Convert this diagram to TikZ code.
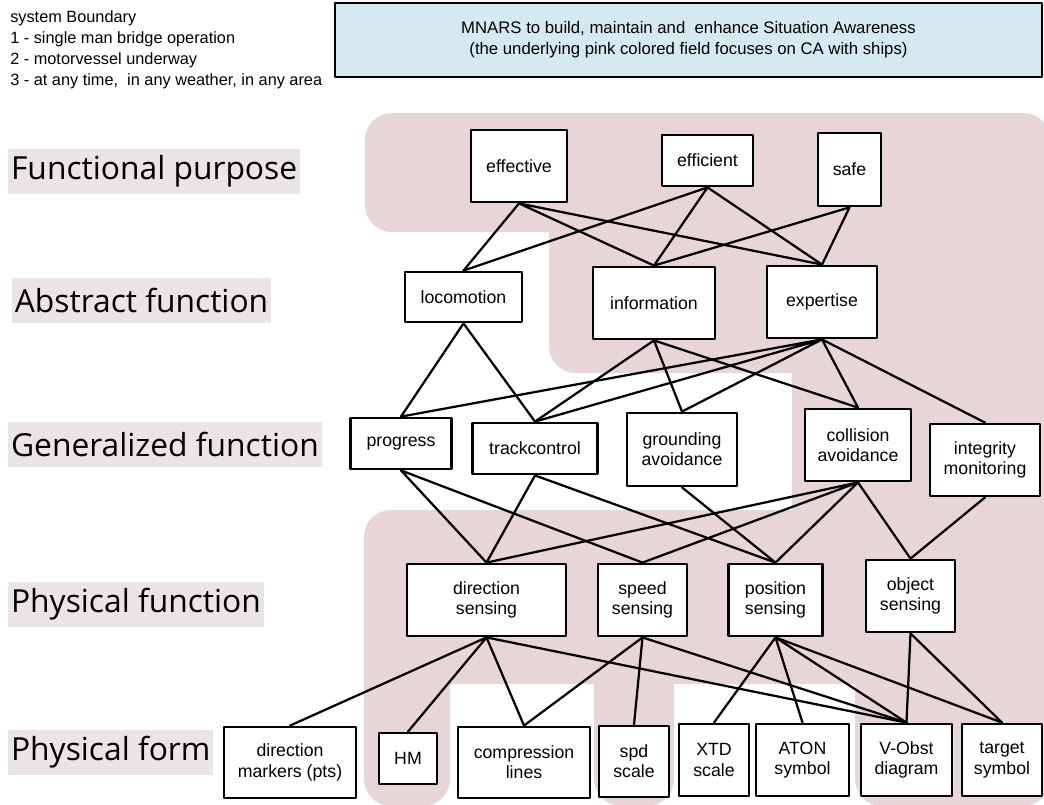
\documentclass[tikz,border=0pt]{standalone}
\usepackage{fontspec}
\setmainfont{Liberation Sans}
\newfontfamily\levelfont{Open Sans}
\definecolor{pinkfield}{RGB}{232,213,216}
\definecolor{levelbg}{RGB}{234,228,228}
\definecolor{bannerblue}{RGB}{212,234,240}

\begin{document}
\begin{tikzpicture}[x=0.025cm, y=-0.025cm, line cap=round, line join=round]
  \tikzset{
    box/.style={draw=black, line width=2pt, fill=white, align=center, inner sep=1pt,
      font=\fontsize{12.6pt}{14.4pt}\selectfont},
    link/.style={line width=1.6pt, draw=black},
    level/.style={fill=levelbg, anchor=west, inner xsep=2pt, minimum height=1.125cm,
      font=\levelfont\fontsize{22.6pt}{26pt}\selectfont},
    field/.style={fill=pinkfield, rounded corners=0.675cm}
  }

  \useasboundingbox (0,0) rectangle (1044,804);
  \clip (0,0) rectangle (1044,804);

  % Pink field (focus on CA with ships)
  \fill[field] (365,113) rectangle (1050,232);
  \fill[field] (549,113) rectangle (1050,373);
  \fill[pinkfield] (792,300) rectangle (1050,684);
  \fill[field] (364,510) rectangle (1050,684);
  \fill[field] (364,600) rectangle (450,806);
  \fill[field] (594,600) rectangle (674,806);
  \fill[field] (855,600) rectangle (1050,806);

  % System boundary note
  \node[anchor=west, align=left, inner sep=0pt, font=\fontsize{11.6pt}{14.9pt}\selectfont] (boundary) at (10,50)
    {system Boundary\\1 - single man bridge operation\\2 - motorvessel underway\\3 - at any time,\ \ in any weather, in any area};

  % Goal banner
  \node[draw=black, line width=1.6pt, fill=bannerblue, minimum width=17.675cm, minimum height=1.85cm,
    align=center, font=\fontsize{11.9pt}{14.9pt}\selectfont] (goal) at (688.5,40)
    {MNARS to build, maintain and\ \ enhance Situation Awareness\\(the underlying pink colored field focuses on CA with ships)};

  % Level names
  \node[level] (lvl_fp) at (8,171.5) {Functional purpose};
  \node[level] (lvl_af) at (11.7,300) {Abstract function};
  \node[level] (lvl_gf) at (8,444) {Generalized function};
  \node[level] (lvl_pfn) at (8,604.5) {Physical function};
  \node[level] (lvl_pfm) at (8,752.5) {Physical form};

  % Functional purpose
  \node[box, minimum width=2.4cm, minimum height=1.8cm] (effective) at (519,166) {effective};
  \node[box, minimum width=2.275cm, minimum height=1.275cm] (efficient) at (707.5,160.5) {efficient};
  \node[box, minimum width=1.575cm, minimum height=1.825cm] (safe) at (849.5,169.5) {safe};

  % Abstract function
  \node[box, minimum width=2.925cm, minimum height=1.25cm] (locomotion) at (463.5,297) {locomotion};
  \node[box, minimum width=3.05cm, minimum height=1.8cm] (information) at (654,303) {information};
  \node[box, minimum width=2.75cm, minimum height=1.8cm] (expertise) at (822,302) {expertise};

  % Generalized function
  \node[box, minimum width=2.525cm, minimum height=1.275cm] (progress) at (401,443.5) {progress};
  \node[box, minimum width=3.125cm, minimum height=1.275cm] (track) at (535,448.5) {trackcontrol};
  \node[box, minimum width=2.75cm, minimum height=1.825cm] (grounding) at (682,449.5) {grounding\\avoidance};
  \node[box, minimum width=2.65cm, minimum height=1.8cm] (collision) at (858,445) {collision\\avoidance};
  \node[box, minimum width=2.75cm, minimum height=1.8cm] (integrity) at (985,460) {integrity\\monitoring};

  % Physical function
  \node[box, minimum width=3.975cm, minimum height=1.8cm] (dirsense) at (486.5,600) {direction\\sensing};
  \node[box, minimum width=2.225cm, minimum height=1.8cm] (spdsense) at (642.5,600) {speed\\sensing};
  \node[box, minimum width=2.35cm, minimum height=1.8cm] (possense) at (775.5,600) {position\\sensing};
  \node[box, minimum width=2.225cm, minimum height=1.8cm] (objsense) at (910.5,596) {object\\sensing};

  % Physical form
  \node[box, minimum width=3.3cm, minimum height=1.775cm] (dirmark) at (290,762.5) {direction\\markers (pts)};
  \node[box, minimum width=1.45cm, minimum height=1.275cm] (hm) at (408,758.5) {HM};
  \node[box, minimum width=3.3cm, minimum height=1.775cm] (compress) at (524,762.5) {compression\\lines};
  \node[box, minimum width=1.75cm, minimum height=1.775cm] (spdscale) at (634,761.5) {spd\\scale};
  \node[box, minimum width=1.75cm, minimum height=1.8cm] (xtd) at (714,760) {XTD\\scale};
  \node[box, minimum width=2.325cm, minimum height=1.8cm] (aton) at (802.5,760) {ATON\\symbol};
  \node[box, minimum width=2.275cm, minimum height=1.8cm] (vobst) at (906.5,760) {V-Obst\\diagram};
  \node[box, minimum width=2.0cm, minimum height=1.8cm] (target) at (1002,760) {target\\symbol};

  % Links: purpose -> abstract
  \draw[link] (effective.south) -- (locomotion.north) (effective.south) -- (information.north) (effective.south) -- (expertise.north);
  \draw[link] (efficient.south) -- (locomotion.north) (efficient.south) -- (information.north) (efficient.south) -- (expertise.north);
  \draw[link] (safe.south) -- (information.north) (safe.south) -- (expertise.north);

  % Links: abstract -> generalized
  \draw[link] (locomotion.south) -- (progress.north) (locomotion.south) -- (track.north);
  \draw[link] (information.south) -- (track.north) (information.south) -- (grounding.north) (information.south) -- (collision.north);
  \draw[link] (expertise.south) -- (progress.north) (expertise.south) -- (track.north) (expertise.south) -- (grounding.north);
  \draw[link] (expertise.south) -- (collision.north) (expertise.south) -- (integrity.north);

  % Links: generalized -> physical function
  \draw[link] (progress.south) -- (dirsense.north) (progress.south) -- (spdsense.north);
  \draw[link] (track.south) -- (dirsense.north) (track.south) -- (possense.north);
  \draw[link] (grounding.south) -- (possense.north);
  \draw[link] (collision.south) -- (dirsense.north) (collision.south) -- (spdsense.north);
  \draw[link] (collision.south) -- (possense.north) (collision.south) -- (objsense.north);
  \draw[link] (integrity.south) -- (objsense.north);

  % Links: physical function -> physical form
  \draw[link] (dirsense.south) -- (dirmark.north) (dirsense.south) -- (hm.north);
  \draw[link] (dirsense.south) -- (compress.north) (dirsense.south) -- (vobst.north);
  \draw[link] (spdsense.south) -- (compress.north) (spdsense.south) -- (spdscale.north) (spdsense.south) -- (vobst.north);
  \draw[link] (possense.south) -- (xtd.north) (possense.south) -- (aton.north);
  \draw[link] (possense.south) -- (vobst.north) (possense.south) -- (target.north);
  \draw[link] (objsense.south) -- (vobst.north) (objsense.south) -- (target.north);

\end{tikzpicture}
\end{document}
